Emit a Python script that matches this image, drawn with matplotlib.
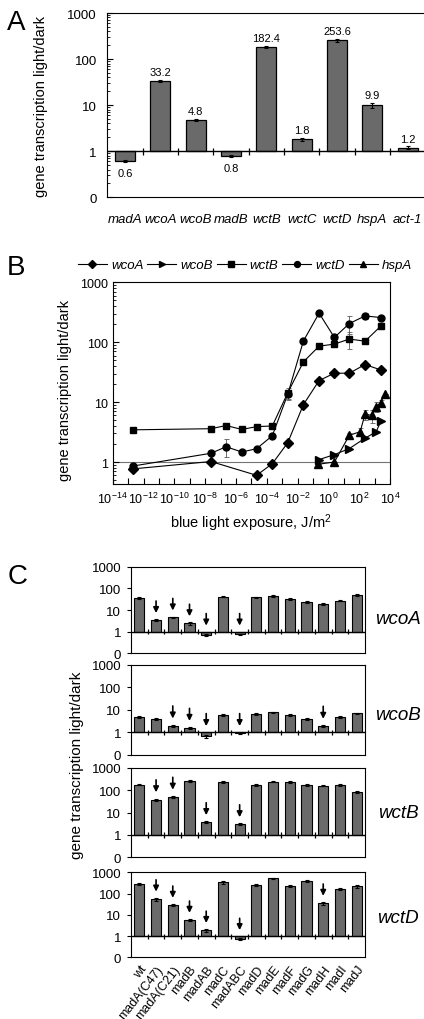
import numpy as np
import matplotlib
matplotlib.use('Agg')
import matplotlib.pyplot as plt
from matplotlib.ticker import FixedLocator, NullLocator, LogLocator, NullFormatter

plt.rcParams['font.family'] = ['Liberation Sans', 'DejaVu Sans']
plt.rcParams['mathtext.default'] = 'regular'

# ---------------- Panel A data ----------------
A_genes = ['madA', 'wcoA', 'wcoB', 'madB', 'wctB', 'wctC', 'wctD', 'hspA', 'act-1']
A_values = [0.6, 33.2, 4.8, 0.8, 182.4, 1.8, 253.6, 9.9, 1.2]
A_errors = [0.03, 2.0, 0.3, 0.04, 12.0, 0.15, 20.0, 1.4, 0.08]
A_value_labels = ['0.6', '33.2', '4.8', '0.8', '182.4', '1.8', '253.6', '9.9', '1.2']

# ---------------- Panel B data ----------------
B_exposure = [2.2e-13, 2.4e-8, 2.3e-7, 2.4e-6, 2.2e-5, 2.3e-4, 2.3e-3,
              2.4e-2, 0.25, 2.45, 23, 240, 2500]
B_wcoA_x = [2.2e-13, 2.4e-8, 2.2e-5, 2.3e-4, 2.3e-3, 2.4e-2, 0.25, 2.45, 23, 240, 2500]
B_wcoA = [0.77, 1.02, 0.6, 0.94, 2.1, 9.1, 22.9, 30.4, 30.4, 42.4, 34.5]
B_wcoA_err = [0, 0, 0, 0, 0, 0, 0, 0, 0, 3, 0]
B_wcoB_x = [0.25, 2.45, 23, 240, 1260, 2500]
B_wcoB = [1.1, 1.33, 1.68, 2.5, 3.2, 4.75]
B_wcoB_err = [0, 0, 0, 0, 0, 0]
B_wctB = [3.45, 3.6, 4.07, 3.5, 3.9, 4.0, 14.3, 47, 86, 93, 113, 104, 185]
B_wctB_err = [0, 0, 0, 0, 0, 0, 3, 0, 0, 0, 35, 0, 0]
B_wctD = [0.86, 1.4, 1.8, 1.47, 1.67, 2.75, 13.5, 105, 305, 120, 205, 275, 258]
B_wctD_err = [0, 0, 0.6, 0, 0, 0, 2.5, 0, 0, 10, 70, 30, 0]
B_hspA_x = [0.22, 2.45, 23, 115, 240, 660, 1260, 2500, 4800]
B_hspA = [0.92, 1.0, 2.8, 3.2, 6.3, 6.0, 8.4, 9.8, 13.9]
B_hspA_err = [0, 0, 0.3, 0.5, 1.2, 1.5, 1.5, 1.0, 0]
B_xtick_exponents = list(range(-14, 5))
B_series_names = ['wcoA', 'wcoB', 'wctB', 'wctD', 'hspA']

# ---------------- Panel C data ----------------
C_strains = ['wt', 'madA(C47)', 'madA(C21)', 'madB', 'madAB', 'madC', 'madABC',
             'madD', 'madE', 'madF', 'madG', 'madH', 'madI', 'madJ']
C_genes = ['wcoA', 'wcoB', 'wctB', 'wctD']
C_wcoA = [35, 3.5, 4.6, 2.4, 0.72, 41, 0.75, 38.5, 46, 32, 24, 19.5, 27, 49]
C_wcoA_err = [3, 0.3, 0.4, 0.3, 0.08, 3, 0.05, 3, 4, 2, 2, 2, 2, 5]
C_wcoB = [4.9, 3.9, 1.97, 1.55, 0.66, 5.9, 0.92, 6.5, 7.7, 5.9, 3.9, 1.9, 4.9, 6.9]
C_wcoB_err = [0.4, 0.3, 0.2, 0.15, 0.08, 0.4, 0.03, 0.4, 0.5, 0.4, 0.3, 0.2, 0.4, 0.5]
C_wctB = [182, 38, 50, 257, 3.77, 247, 2.98, 176, 247, 232, 176, 164, 176, 84]
C_wctB_err = [15, 5, 6, 20, 0.3, 25, 0.3, 15, 20, 25, 15, 15, 15, 8]
C_wctD = [280, 55, 29, 5.7, 1.86, 336, 0.75, 258, 520, 232, 388, 35, 162, 218]
C_wctD_err = [30, 10, 4, 0.8, 0.3, 50, 0.1, 20, 40, 25, 40, 6, 15, 35]
C_arrow_idx = {'wcoA': [1, 2, 3, 4, 6],
               'wcoB': [2, 3, 4, 6, 11],
               'wctB': [1, 2, 4, 6],
               'wctD': [1, 2, 3, 4, 6, 11]}
Y_tick_values = [0.1, 1, 10, 100, 1000]
Y_tick_labels = ['0', '1', '10', '100', '1000']

BAR_COLOR = '#6a6a6a'
W, H = 424, 1020
fig = plt.figure(figsize=(W / 100, H / 100), dpi=100)


def rect(l, r, t, b):
    return [l / W, 1 - b / H, (r - l) / W, (b - t) / H]


# ================= Panel A =================
axA = fig.add_axes(rect(107.3, 425.4, 14, 198.3))
xa = np.arange(len(A_genes))
axA.set_yscale('log')
axA.bar(xa, np.array(A_values) - 1, bottom=1, width=0.57, color=BAR_COLOR,
        edgecolor='k', linewidth=0.9, zorder=2)
axA.errorbar(xa, A_values, yerr=A_errors, fmt='none', ecolor='k', elinewidth=0.8,
             capsize=1.5, capthick=0.8, zorder=3)
axA.set_ylim(0.1, 1000)
axA.set_xlim(-0.5, len(A_genes) - 0.5)
axA.axhline(1, color='k', lw=1.0, zorder=4)
axA.vlines(xa[:-1] + 0.5, 0.23, 0.27, transform=axA.get_xaxis_transform(),
           color='k', lw=0.9, zorder=4)
for i, (v, e, lab) in enumerate(zip(A_values, A_errors, A_value_labels)):
    if v >= 1:
        axA.annotate(lab, (i, v + e), xytext=(0, 2), textcoords='offset points',
                     ha='center', va='bottom', fontsize=8)
    else:
        axA.annotate(lab, (i, v), xytext=(0, -5), textcoords='offset points',
                     ha='center', va='top', fontsize=8)
axA.set_yticks(Y_tick_values)
axA.set_yticklabels(Y_tick_labels)
axA.yaxis.set_minor_locator(LogLocator(base=10, subs=np.arange(2, 10)))
axA.yaxis.set_minor_formatter(NullFormatter())
axA.tick_params(axis='y', which='major', direction='in', length=4, pad=7.5, labelsize=9.5)
axA.tick_params(axis='y', which='minor', direction='in', length=2)
axA.set_xticks(xa)
axA.set_xticklabels(A_genes, fontstyle='italic', fontsize=9.5)
axA.tick_params(axis='x', length=0, pad=11)
axA.set_ylabel('gene transcription light/dark', fontsize=10.5)
axA.yaxis.set_label_coords(-0.185, 0.5)
fig.text(16 / W, 1 - 23 / H, 'A', fontsize=20, ha='center', va='center')

# ================= Panel B =================
axB = fig.add_axes(rect(112.7, 390, 283.3, 485))
axB.set_xscale('log')
axB.set_yscale('log')
axB.axhline(1, color='0.45', lw=0.8, zorder=1)
series = [
    (B_wcoA_x, B_wcoA, B_wcoA_err, 'D', 4.6),
    (B_wcoB_x, B_wcoB, B_wcoB_err, '>', 5.5),
    (B_exposure, B_wctB, B_wctB_err, 's', 4.3),
    (B_exposure, B_wctD, B_wctD_err, 'o', 5.0),
    (B_hspA_x, B_hspA, B_hspA_err, '^', 5.5),
]
handles = []
for (xs, ys, es, mk, ms), name in zip(series, B_series_names):
    axB.errorbar(xs, ys, yerr=es, fmt='none', ecolor='0.35', elinewidth=0.6,
                 capsize=1.8, capthick=0.6, zorder=2)
    ln, = axB.plot(xs, ys, color='k', lw=0.8, marker=mk, markersize=ms,
                   markerfacecolor='k', markeredgecolor='k', zorder=3, label=name)
    handles.append(ln)
axB.set_xlim(1e-14, 1e4)
axB.set_ylim(0.43, 1000)
axB.xaxis.set_major_locator(FixedLocator([10.0 ** e for e in B_xtick_exponents]))
axB.set_xticklabels([r'$10^{%d}$' % e if e % 2 == 0 else '' for e in B_xtick_exponents])
axB.xaxis.set_minor_locator(NullLocator())
axB.set_yticks(Y_tick_values[1:])
axB.set_yticklabels(Y_tick_labels[1:])
axB.yaxis.set_minor_locator(LogLocator(base=10, subs=np.arange(2, 10)))
axB.yaxis.set_minor_formatter(NullFormatter())
axB.tick_params(axis='both', which='major', direction='in', length=4, labelsize=9)
axB.tick_params(axis='y', which='major', pad=3)
axB.tick_params(axis='x', which='major', pad=5)
axB.tick_params(axis='y', which='minor', direction='in', length=2)
axB.set_xlabel('blue light exposure, J/m$^2$', fontsize=10.5, labelpad=4)
axB.set_ylabel('gene transcription light/dark', fontsize=10.5)
axB.yaxis.set_label_coords(-0.147, 0.47)
fig.legend(handles, B_series_names, loc='center', bbox_to_anchor=(245 / W, 1 - 266 / H),
           ncol=5, frameon=False, handlelength=2.2, handletextpad=0.3,
           columnspacing=0.3, markerscale=0.85,
           prop={'style': 'italic', 'size': 9.5})
fig.text(16 / W, 1 - 268 / H, 'B', fontsize=20, ha='center', va='center')

# ================= Panel C =================
C_values = [C_wcoA, C_wcoB, C_wctB, C_wctD]
C_errors = [C_wcoA_err, C_wcoB_err, C_wctB_err, C_wctD_err]
C_rows = [(567.7, 654.3), (665.7, 756), (769, 858.3), (873.3, 958.3)]
C_label_y = [0.40, 0.45, 0.50, 0.47]
xc = np.arange(len(C_strains))
for k, (gene, vals, errs, (t, b)) in enumerate(zip(C_genes, C_values, C_errors, C_rows)):
    ax = fig.add_axes(rect(131, 365, t, b))
    ax.set_yscale('log')
    ax.bar(xc, np.array(vals) - 1, bottom=1, width=0.6, color=BAR_COLOR,
           edgecolor='k', linewidth=0.8, zorder=2)
    ax.errorbar(xc, vals, yerr=errs, fmt='none', ecolor='k', elinewidth=0.8,
                capsize=1.2, capthick=0.8, zorder=3)
    ax.set_ylim(0.1, 1000)
    ax.set_xlim(-0.5, len(C_strains) - 0.5)
    ax.axhline(1, color='k', lw=1.0, zorder=4)
    ax.vlines(xc[:-1] + 0.5, 0.22, 0.28, transform=ax.get_xaxis_transform(),
              color='k', lw=0.9, zorder=4)
    for i in C_arrow_idx[gene]:
        top = max(vals[i] + errs[i], 1.0)
        tip = top * 1.9
        tail = tip * 3.6
        ax.annotate('', xy=(i, tip), xytext=(i, tail),
                    arrowprops=dict(arrowstyle='-|>', color='k', lw=1.2,
                                    mutation_scale=8, shrinkA=0, shrinkB=0))
    ax.set_yticks(Y_tick_values)
    ax.set_yticklabels(Y_tick_labels)
    ax.yaxis.set_minor_locator(NullLocator())
    ax.tick_params(axis='y', direction='out', length=3, pad=4, labelsize=9.5)
    ax.set_xticks(xc)
    if k == len(C_genes) - 1:
        ax.set_xticklabels(C_strains, rotation=52, ha='right', rotation_mode='anchor',
                           fontsize=9)
        ax.tick_params(axis='x', length=0, pad=4)
    else:
        ax.set_xticklabels([])
        ax.tick_params(axis='x', length=0)
    ax.text(1.142, C_label_y[k], gene, transform=ax.transAxes, fontsize=13.5,
            fontstyle='italic', ha='center', va='center')

fig.text(77 / W, 1 - 765 / H, 'gene transcription light/dark', rotation=90,
         fontsize=11, ha='center', va='center')
fig.text(18 / W, 1 - 577 / H, 'C', fontsize=20, ha='center', va='center')

fig.savefig('out.png', dpi=100)
